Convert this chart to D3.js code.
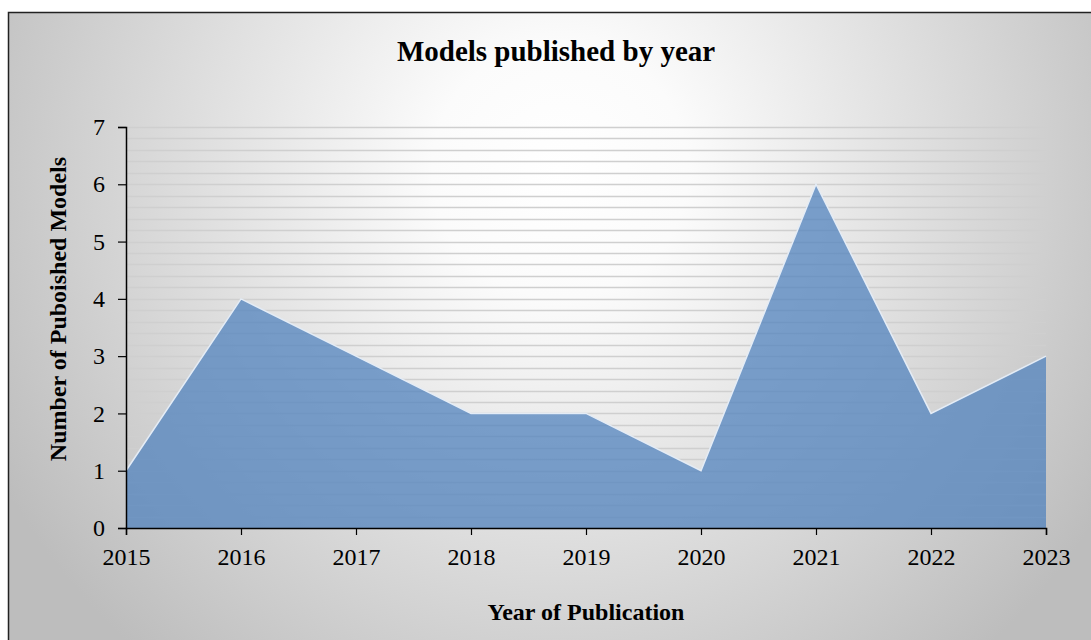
<!DOCTYPE html>
<html>
<head>
<meta charset="utf-8">
<script src="https://cdn.jsdelivr.net/npm/d3@7"></script>
<style>
  body { margin: 0; background: #fff; }
  text { font-family: "Liberation Serif", "Times New Roman", serif; fill: #000; }
</style>
</head>
<body>
<div id="chart"></div>
<script>
var years = [2015, 2016, 2017, 2018, 2019, 2020, 2021, 2022, 2023];
var models = [1, 4, 3, 2, 2, 1, 6, 2, 3];
var yTicks = [0, 1, 2, 3, 4, 5, 6, 7];

var W = 1091, H = 640;
var margin = {top: 127, right: 45, bottom: 112, left: 126};
var width = W - margin.left - margin.right,
    height = H - margin.top - margin.bottom;

var svg = d3.select("#chart").append("svg")
    .attr("width", W)
    .attr("height", H);

var defs = svg.append("defs");
var grad = defs.append("radialGradient")
    .attr("id", "bg")
    .attr("gradientUnits", "userSpaceOnUse")
    .attr("cx", 560).attr("cy", 170).attr("r", 640);
grad.append("stop").attr("offset", "0%").attr("stop-color", "#ffffff");
grad.append("stop").attr("offset", "20%").attr("stop-color", "#fbfbfb");
grad.append("stop").attr("offset", "100%").attr("stop-color", "#bdbdbd");

svg.append("rect")
    .attr("x", 8.5).attr("y", 12.5)
    .attr("width", W + 10).attr("height", H + 10)
    .attr("fill", "url(#bg)")
    .attr("stroke", "#222")
    .attr("stroke-width", 1.5);

var g = svg.append("g").attr("transform", "translate(" + margin.left + "," + margin.top + ")");

var x = d3.scaleLinear().domain([2015, 2023]).range([0, width]);
var y = d3.scaleLinear().domain([0, 7]).range([height, 0]);

// minor gridlines every 0.2
var grid = d3.range(0, 35).map(function(i) { return (i + 1) / 5; });
g.append("g").selectAll("line")
  .data(grid)
  .enter().append("line")
    .attr("x1", 0).attr("x2", width)
    .attr("y1", function(d) { return Math.round(y(d)) + 0.5; })
    .attr("y2", function(d) { return Math.round(y(d)) + 0.5; })
    .attr("stroke", "#cfcfcf")
    .attr("stroke-width", 1.5);

var area = d3.area()
    .x(function(d, i) { return x(years[i]); })
    .y0(height)
    .y1(function(d) { return y(d); });

g.append("path")
    .datum(models)
    .attr("d", area)
    .attr("fill", "#4f81bd")
    .attr("fill-opacity", 0.74);

var line = d3.line()
    .x(function(d, i) { return x(years[i]); })
    .y(function(d) { return y(d); });

g.append("path")
    .datum(models)
    .attr("d", line)
    .attr("fill", "none")
    .attr("stroke", "#e4ecf6")
    .attr("stroke-width", 1.5);

var yAxis = g.append("g")
    .call(d3.axisLeft(y).tickValues(yTicks).tickSize(8).tickFormat(d3.format("d")));
yAxis.select(".domain").attr("stroke", "#000").attr("stroke-width", 1.5);
yAxis.selectAll(".tick line").attr("stroke", "#000").attr("stroke-width", 1.2);
yAxis.selectAll(".tick text")
    .attr("x", -21)
    .attr("font-size", 24)
    .attr("font-family", "Liberation Serif, serif");

var xAxis = g.append("g")
    .attr("transform", "translate(0," + height + ")")
    .call(d3.axisBottom(x).tickValues(years).tickSize(7).tickFormat(d3.format("d")));
xAxis.select(".domain").attr("stroke", "#000").attr("stroke-width", 1.5);
xAxis.selectAll(".tick line").attr("stroke", "#000").attr("stroke-width", 1.2);
xAxis.selectAll(".tick text")
    .attr("y", 20)
    .attr("font-size", 24)
    .attr("font-family", "Liberation Serif, serif");

svg.append("text")
    .attr("x", 556).attr("y", 61)
    .attr("text-anchor", "middle")
    .attr("font-size", 29)
    .attr("font-weight", "bold")
    .text("Models published by year");

svg.append("text")
    .attr("transform", "translate(66,309) rotate(-90)")
    .attr("text-anchor", "middle")
    .attr("font-size", 24)
    .attr("font-weight", "bold")
    .text("Number of Puboished Models");

svg.append("text")
    .attr("x", 586).attr("y", 620)
    .attr("text-anchor", "middle")
    .attr("font-size", 24)
    .attr("font-weight", "bold")
    .text("Year of Publication");
</script>
</body>
</html>
